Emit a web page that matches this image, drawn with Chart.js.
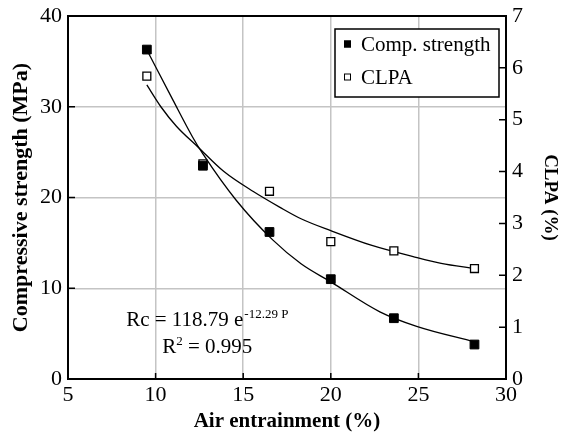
<!DOCTYPE html>
<html>
<head>
<meta charset="utf-8">
<script src="https://cdn.jsdelivr.net/npm/chart.js@4.4.0/dist/chart.umd.min.js"></script>
<style>
    html, body { margin: 0; padding: 0; background: #fff; }
    #wrap { width: 561px; height: 434px; }
</style>
</head>
<body>
<div id="wrap"><canvas id="myChart"></canvas></div>
<script>
// measured points
const airEntrain = [9.5, 12.7, 16.5, 20.0, 23.6, 28.2];      // x, %
const compStrength = [36.3, 23.5, 16.2, 11.0, 6.7, 3.8];     // left axis, MPa
const clpa = [5.84, 4.15, 3.62, 2.65, 2.47, 2.13];           // right axis, %

// trend curves
const strengthFitX = [9.6, 11.0, 12.1, 12.7, 14.6, 16.7, 18.3, 20.0, 22.8, 24.9, 28.2];
const strengthFitY = [35.9, 30.7, 26.7, 24.8, 19.7, 15.3, 12.7, 10.7, 7.4, 5.8, 4.1];
const clpaFitX = [9.5, 10.3, 11.2, 12.4, 13.9, 15.6, 17.1, 18.3, 20.0, 22.3, 24.7, 26.3, 28.2];
const clpaFitY = [5.67, 5.25, 4.87, 4.48, 4.0, 3.61, 3.31, 3.09, 2.86, 2.58, 2.36, 2.23, 2.13];

const seriesNames = ['Comp. strength', 'CLPA'];
const fitEquation = 'Rc = 118.79 e';
const fitExponent = '-12.29 P';
const fitR2 = '0.995';

const FONT = "'Liberation Serif', 'Times New Roman', serif";

function toXY(xs, ys) {
    return xs.map((x, i) => ({x: x, y: ys[i]}));
}

// fixed scale boxes so the plot area matches the figure
function fixBox(size) {
    return s => {
        if (s.isHorizontal()) s.height = size; else s.width = size;
        s.paddingTop = 0; s.paddingBottom = 0;
        s.paddingLeft = 0; s.paddingRight = 0;
    };
}

// top frame line + inward tick marks
const framePlugin = {
    id: 'frame',
    afterDraw(chart) {
        const ctx = chart.ctx;
        const a = chart.chartArea;
        ctx.save();
        ctx.strokeStyle = '#000';
        ctx.lineWidth = 2;
        ctx.beginPath();
        ctx.moveTo(a.left - 1, a.top);
        ctx.lineTo(a.right + 1, a.top);
        ctx.stroke();

        ctx.lineWidth = 1.5;
        const sx = chart.scales.x, sy = chart.scales.y, sy2 = chart.scales.y2;
        ctx.beginPath();
        sx.ticks.forEach(t => {
            const px = sx.getPixelForValue(t.value);
            ctx.moveTo(px, a.bottom);
            ctx.lineTo(px, a.bottom - 6);
        });
        sy.ticks.forEach(t => {
            const py = sy.getPixelForValue(t.value);
            ctx.moveTo(a.left, py);
            ctx.lineTo(a.left + 7, py);
        });
        sy2.ticks.forEach(t => {
            const py = sy2.getPixelForValue(t.value);
            ctx.moveTo(a.right, py);
            ctx.lineTo(a.right - 7, py);
        });
        ctx.stroke();
        ctx.restore();
    }
};

// boxed legend in the top right corner
const legendPlugin = {
    id: 'boxLegend',
    afterDraw(chart) {
        const ctx = chart.ctx;
        const a = chart.chartArea;
        const w = 164, h = 68;
        const x0 = a.right - 7 - w, y0 = a.top + 13;
        ctx.save();
        ctx.fillStyle = '#fff';
        ctx.fillRect(x0, y0, w, h);
        ctx.strokeStyle = '#000';
        ctx.lineWidth = 1.5;
        ctx.strokeRect(x0, y0, w, h);
        ctx.font = '21px ' + FONT;
        ctx.textBaseline = 'middle';
        ctx.textAlign = 'left';
        [0, 1].forEach(i => {
            const ds = chart.data.datasets[i];
            const cy = y0 + 15 + i * 33;
            ctx.fillStyle = ds.pointBackgroundColor;
            ctx.fillRect(x0 + 9, cy - 3.5, 7, 7);
            ctx.strokeStyle = '#000';
            ctx.lineWidth = 1;
            ctx.strokeRect(x0 + 9.5, cy - 3, 6, 6);
            ctx.fillStyle = '#000';
            ctx.fillText(ds.label, x0 + 26, cy + 1);
        });
        ctx.restore();
    }
};

// regression equation
const equationPlugin = {
    id: 'equation',
    afterDraw(chart) {
        const ctx = chart.ctx;
        const sx = chart.scales.x, sy = chart.scales.y;
        const cx = sx.getPixelForValue(12.95);
        const b1 = sy.getPixelForValue(5.84);
        const b2 = sy.getPixelForValue(2.87);
        ctx.save();
        ctx.fillStyle = '#000';
        ctx.textBaseline = 'alphabetic';
        ctx.textAlign = 'left';

        ctx.font = '21px ' + FONT;
        const w1 = ctx.measureText(fitEquation).width;
        ctx.font = '13px ' + FONT;
        const w1s = ctx.measureText(fitExponent).width;
        let x = cx - (w1 + w1s + 1) / 2;
        ctx.font = '21px ' + FONT;
        ctx.fillText(fitEquation, x, b1);
        ctx.font = '13px ' + FONT;
        ctx.fillText(fitExponent, x + w1 + 1, b1 - 8);

        const partA = 'R', partB = ' = ' + fitR2;
        ctx.font = '21px ' + FONT;
        const wa = ctx.measureText(partA).width;
        const wb = ctx.measureText(partB).width;
        ctx.font = '13px ' + FONT;
        const ws = ctx.measureText('2').width;
        x = cx - (wa + ws + wb) / 2;
        ctx.font = '21px ' + FONT;
        ctx.fillText(partA, x, b2);
        ctx.font = '13px ' + FONT;
        ctx.fillText('2', x + wa, b2 - 8);
        ctx.font = '21px ' + FONT;
        ctx.fillText(partB, x + wa + ws, b2);
        ctx.restore();
    }
};

function createChart() {
    const ctx = document.getElementById('myChart');
    new Chart(ctx, {
        type: 'scatter',
        data: {
            datasets: [
                {
                    label: seriesNames[0],
                    data: toXY(airEntrain, compStrength),
                    yAxisID: 'y',
                    pointStyle: 'rect',
                    pointRadius: 6.2,
                    pointBackgroundColor: '#000',
                    pointBorderColor: '#000',
                    pointBorderWidth: 1,
                    showLine: false,
                },
                {
                    label: seriesNames[1],
                    data: toXY(airEntrain, clpa),
                    yAxisID: 'y2',
                    pointStyle: 'rect',
                    pointRadius: 5.6,
                    pointBackgroundColor: '#fff',
                    pointBorderColor: '#000',
                    pointBorderWidth: 1.3,
                    showLine: false,
                },
                {
                    label: 'strength fit',
                    data: toXY(strengthFitX, strengthFitY),
                    yAxisID: 'y',
                    showLine: true,
                    pointRadius: 0,
                    borderColor: '#000',
                    borderWidth: 1.3,
                    cubicInterpolationMode: 'monotone',
                },
                {
                    label: 'clpa fit',
                    data: toXY(clpaFitX, clpaFitY),
                    yAxisID: 'y2',
                    showLine: true,
                    pointRadius: 0,
                    borderColor: '#000',
                    borderWidth: 1.3,
                    cubicInterpolationMode: 'monotone',
                },
            ]
        },
        options: {
            responsive: true,
            maintainAspectRatio: false,
            animation: false,
            layout: { padding: { top: 16, left: 0, right: 0, bottom: 0 } },
            plugins: {
                legend: { display: false },
                tooltip: { enabled: false },
            },
            scales: {
                x: {
                    type: 'linear',
                    min: 5, max: 30,
                    afterFit: fixBox(55),
                    ticks: { stepSize: 5, color: '#000', padding: 3, font: { family: FONT, size: 22 } },
                    grid: { color: '#c4c4c4', lineWidth: 1.5, drawTicks: false },
                    border: { color: '#000', width: 2 },
                    title: {
                        display: true,
                        text: 'Air entrainment (%)',
                        color: '#000',
                        font: { family: FONT, size: 21, weight: 'bold' },
                        padding: { top: 0, bottom: 0 },
                    },
                },
                y: {
                    position: 'left',
                    min: 0, max: 40,
                    afterFit: fixBox(68),
                    ticks: { stepSize: 10, color: '#000', padding: 6, font: { family: FONT, size: 22 } },
                    grid: { color: '#c4c4c4', lineWidth: 1.5, drawTicks: false },
                    border: { color: '#000', width: 2 },
                    title: {
                        display: true,
                        text: 'Compressive strength (MPa)',
                        color: '#000',
                        font: { family: FONT, size: 22, weight: 'bold' },
                        padding: { top: 8, bottom: 0 },
                    },
                },
                y2: {
                    position: 'right',
                    min: 0, max: 7,
                    afterFit: fixBox(55),
                    ticks: { stepSize: 1, color: '#000', padding: 6, font: { family: FONT, size: 22 } },
                    grid: { drawOnChartArea: false, drawTicks: false },
                    border: { color: '#000', width: 2 },
                    title: {
                        display: true,
                        text: 'CLPA (%)',
                        color: '#000',
                        font: { family: FONT, size: 19, weight: 'bold' },
                        padding: { top: 0, bottom: 0 },
                    },
                },
            }
        },
        plugins: [framePlugin, legendPlugin, equationPlugin]
    });
}

createChart();
</script>
</body>
</html>
